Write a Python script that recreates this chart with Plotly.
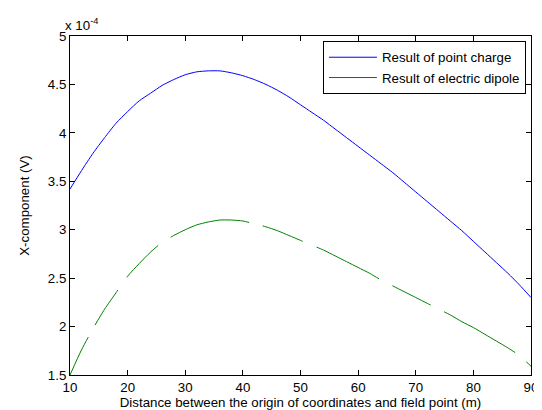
import plotly.graph_objects as go

# Distance (m)
x_dist = [10, 12, 14, 16, 18, 20, 22, 24, 26, 28, 30, 32, 34, 36, 38, 40, 42, 44, 46, 48, 50,
          52, 54, 56, 58, 60, 62, 64, 66, 68, 70, 72, 74, 76, 78, 80, 82, 84, 86, 88, 90]

# X-component (V), in units of 1e-4
point_charge = [3.42, 3.61, 3.79, 3.95, 4.10, 4.22, 4.33, 4.41, 4.49, 4.55, 4.60, 4.63, 4.64,
                4.64, 4.62, 4.59, 4.55, 4.50, 4.44, 4.37, 4.29, 4.21, 4.13, 4.04, 3.95, 3.86,
                3.77, 3.68, 3.59, 3.49, 3.39, 3.29, 3.19, 3.09, 2.99, 2.88, 2.77, 2.66, 2.55,
                2.43, 2.30]

electric_dipole = [1.50, 1.76, 1.98, 2.18, 2.35, 2.52, 2.65, 2.77, 2.87, 2.94, 3.00, 3.05, 3.08,
                   3.10, 3.10, 3.09, 3.06, 3.03, 2.99, 2.94, 2.89, 2.84, 2.79, 2.73, 2.67, 2.61,
                   2.55, 2.48, 2.42, 2.36, 2.30, 2.24, 2.18, 2.12, 2.05, 1.99, 1.92, 1.85, 1.78,
                   1.70, 1.59]

series_names = ["Result of point charge", "Result of electric dipole"]

x_ticks = [10, 20, 30, 40, 50, 60, 70, 80, 90]
y_ticks = [1.5, 2, 2.5, 3, 3.5, 4, 4.5, 5]

FONT = "Liberation Sans, Arial, sans-serif"
FS = 13.3
BLUE = "#0000FF"
GREEN = "#008000"

fig = go.Figure()
fig.add_trace(go.Scatter(x=x_dist, y=point_charge, mode="lines",
                         name=series_names[0],
                         line=dict(color=BLUE, width=1, shape="spline", smoothing=0.6)))
fig.add_trace(go.Scatter(x=x_dist, y=electric_dipole, mode="lines",
                         name=series_names[1], legendgroup="dip", showlegend=False,
                         line=dict(color=GREEN, width=1, shape="spline", smoothing=0.6,
                                   dash="42px,14px,42px,15px,45px,15px,82px,14px,43px,15px,70px,15px,43px,15px,82px,15px,20px,300px")))
# legend entry for the dipole series (solid sample, as in the reference legend)
fig.add_trace(go.Scatter(x=[None], y=[None], mode="lines",
                         name=series_names[1], legendgroup="dip",
                         line=dict(color=GREEN, width=1)))

axis_common = dict(showline=True, linecolor="black", linewidth=1, mirror="ticks",
                   ticks="inside", ticklen=5, tickcolor="black", tickwidth=1,
                   showgrid=False, zeroline=False,
                   tickfont=dict(family=FONT, size=FS, color="black"))

fig.update_layout(
    width=542, height=410,
    margin=dict(l=62, r=12, t=28, b=38),
    paper_bgcolor="white", plot_bgcolor="white",
    font=dict(family=FONT, size=FS, color="black"),
    xaxis=dict(range=[10, 90], tickvals=x_ticks,
               title=dict(text="Distance between the origin of coordinates and field point (m)",
                          font=dict(family=FONT, size=FS), standoff=2),
               **axis_common),
    yaxis=dict(range=[1.5, 5], tickvals=y_ticks,
               title=dict(text="X-component (V)", font=dict(family=FONT, size=FS), standoff=15),
               **axis_common),
    legend=dict(x=0.989, y=0.985, xanchor="right", yanchor="top",
                bgcolor="white", bordercolor="black", borderwidth=1,
                font=dict(family=FONT, size=FS), tracegroupgap=0, itemwidth=48),
    showlegend=True,
    annotations=[dict(text="x 10<sup>-4</sup>", xref="paper", yref="paper",
                      x=0, y=1, xanchor="left", yanchor="bottom", showarrow=False,
                      font=dict(family=FONT, size=FS), xshift=-7, yshift=1)],
)

fig.write_html("out.html")
